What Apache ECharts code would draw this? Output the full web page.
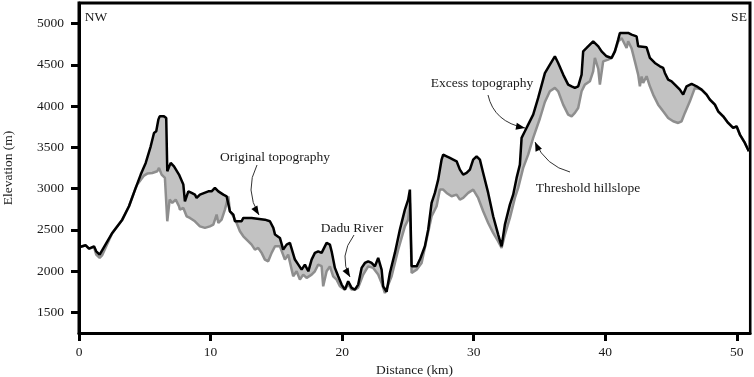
<!DOCTYPE html>
<html>
<head>
<meta charset="utf-8">
<script src="https://cdn.jsdelivr.net/npm/echarts@6/dist/echarts.min.js"></script>
<style>
html, body { margin: 0; padding: 0; background: #fff; }
#chart { width: 754px; height: 377px; }
</style>
</head>
<body>
<div id="chart"></div>
<script>
(function(){

// original topography (black line)
var originalX = [0.00, 0.51, 0.76, 1.14, 1.31, 1.57, 2.53, 3.29, 3.80, 4.31, 4.69, 5.07, 5.45, 5.70, 5.87, 6.03, 6.13, 6.46, 6.63, 6.71,
	6.97, 7.22, 7.60, 7.93, 8.05, 8.31, 8.56, 8.81, 8.94, 9.19, 9.83, 10.08, 10.33, 10.46, 10.59, 10.97, 11.22, 11.35, 11.47, 11.73,
	11.85, 12.36, 12.49, 13.12, 14.13, 14.51, 14.77, 14.90, 15.27, 15.52, 15.78, 16.03, 16.41, 16.67, 16.92, 17.17, 17.43, 17.68, 17.93, 18.18,
	18.44, 18.82, 19.07, 19.20, 19.45, 19.70, 19.96, 20.21, 20.46, 20.72, 20.97, 21.22, 21.48, 21.73, 21.98, 22.24, 22.49, 22.74, 23.00, 23.12,
	23.38, 23.63, 24.01, 24.39, 24.77, 25.02, 25.15, 25.28, 25.66, 25.91, 26.29, 26.54, 26.80, 27.05, 27.30, 27.56, 27.68, 27.94, 28.19, 28.44,
	28.70, 28.95, 29.20, 29.46, 29.71, 29.96, 30.22, 30.47, 30.72, 31.10, 31.48, 31.86, 32.12, 32.37, 32.75, 33.00, 33.26, 33.51, 33.64, 33.89,
	34.14, 34.52, 34.90, 35.41, 35.79, 36.17, 36.42, 36.80, 37.18, 37.44, 37.69, 37.94, 38.20, 38.32, 38.58, 39.08, 39.21, 39.47, 39.72, 40.10,
	40.48, 40.73, 40.98, 41.11, 41.74, 42.00, 42.38, 42.50, 43.14, 43.39, 43.77, 44.15, 44.40, 44.53, 44.78, 45.04, 45.29, 45.67, 45.92, 46.18,
	46.56, 46.94, 47.32, 47.70, 47.95, 48.33, 48.58, 48.96, 49.34, 49.72, 49.98, 50.23, 50.61, 50.91];
var originalElev = [2289, 2313, 2273, 2301, 2240, 2200, 2463, 2624, 2786, 3009, 3170, 3312, 3513, 3675, 3695, 3836, 3876, 3876, 3857, 3210,
	3312, 3270, 3170, 3049, 2846, 2967, 2948, 2927, 2887, 2927, 2967, 2967, 3009, 3028, 2967, 2927, 2907, 2907, 2725, 2685,
	2604, 2604, 2645, 2645, 2624, 2604, 2524, 2443, 2402, 2261, 2321, 2342, 2140, 2079, 2018, 2079, 1998, 2140, 2221, 2240,
	2221, 2342, 2321, 2240, 2039, 1937, 1837, 1776, 1877, 1797, 1776, 1837, 2039, 2099, 2119, 2099, 2058, 2160, 2018, 1816,
	1750, 1978, 2221, 2503, 2746, 2867, 2988, 2058, 2058, 2140, 2301, 2503, 2827, 2948, 3109, 3352, 3412, 3392, 3372, 3352,
	3331, 3230, 3170, 3190, 3230, 3352, 3392, 3352, 3190, 2948, 2665, 2443, 2301, 2564, 2806, 2927, 3130, 3291, 3615, 3695,
	3776, 3897, 4100, 4400, 4503, 4604, 4523, 4382, 4261, 4240, 4221, 4240, 4382, 4664, 4705, 4786, 4806, 4725, 4664, 4604,
	4584, 4664, 4806, 4887, 4887, 4867, 4846, 4725, 4713, 4584, 4523, 4483, 4463, 4402, 4321, 4301, 4261, 4200, 4140, 4240,
	4269, 4240, 4200, 4140, 4079, 4018, 3937, 3876, 3796, 3736, 3755, 3655, 3554, 3452];

// threshold hillslope (gray line)
var hillslopeX = [0.00, 0.51, 0.76, 1.14, 1.31, 1.57, 1.75, 2.53, 3.29, 3.80, 4.31, 4.43, 4.94, 5.19, 5.57, 5.95, 6.08, 6.28, 6.53, 6.66,
	6.71, 6.89, 7.09, 7.35, 7.60, 7.67, 7.93, 8.18, 8.43, 8.81, 9.19, 9.57, 9.95, 10.21, 10.46, 10.59, 10.84, 11.09, 11.35, 11.47,
	11.73, 11.98, 12.23, 12.49, 12.74, 13.12, 13.37, 13.62, 13.88, 14.13, 14.38, 14.64, 14.90, 15.27, 15.65, 15.90, 16.28, 16.54, 16.79, 17.04,
	17.30, 17.68, 17.93, 18.18, 18.44, 18.56, 18.82, 19.07, 19.32, 19.58, 19.83, 20.21, 20.46, 20.72, 20.97, 21.22, 21.60, 21.98, 22.36, 22.74,
	23.00, 23.25, 23.38, 23.76, 24.26, 24.77, 25.02, 25.15, 25.28, 25.66, 26.04, 26.42, 26.80, 27.18, 27.43, 27.68, 27.94, 28.32, 28.70, 28.95,
	29.20, 29.58, 29.96, 30.34, 30.72, 31.10, 31.48, 31.86, 32.12, 32.37, 32.75, 33.13, 33.38, 33.76, 34.14, 34.52, 35.03, 35.41, 35.79, 36.17,
	36.42, 36.80, 37.18, 37.44, 37.69, 37.94, 38.20, 38.45, 38.83, 39.08, 39.21, 39.47, 39.59, 39.84, 40.22, 40.48, 40.73, 40.98, 41.24, 41.62,
	41.74, 42.00, 42.25, 42.50, 42.63, 42.76, 42.88, 43.14, 43.39, 43.64, 44.02, 44.40, 44.78, 45.16, 45.54, 45.80, 46.05, 46.43, 46.81, 46.94,
	47.32, 47.70, 47.95, 48.33, 48.58, 48.96, 49.34, 49.72, 49.98, 50.23, 50.61, 50.91];
var hillslopeElev = [2289, 2313, 2273, 2290, 2200, 2160, 2190, 2463, 2624, 2786, 3009, 3049, 3158, 3182, 3190, 3210, 3251, 3170, 3130, 3130,
	2604, 2867, 2827, 2867, 2786, 2746, 2766, 2665, 2645, 2604, 2543, 2524, 2543, 2563, 2685, 2584, 2624, 2746, 2907, 2725,
	2665, 2584, 2483, 2422, 2382, 2321, 2261, 2281, 2221, 2140, 2119, 2221, 2301, 2301, 2140, 2200, 1937, 1998, 1897, 1958,
	1918, 1958, 1998, 2079, 2060, 1816, 1998, 2058, 1937, 1897, 1816, 1776, 1840, 1776, 1776, 1800, 1958, 2058, 2039, 1958,
	1857, 1735, 1735, 1937, 2261, 2543, 2624, 2827, 1978, 2018, 2099, 2382, 2665, 2786, 2988, 2988, 2948, 2907, 2927, 2867,
	2887, 2948, 2988, 2887, 2725, 2584, 2463, 2360, 2280, 2443, 2645, 2887, 3009, 3251, 3412, 3615, 3850, 4050, 4180, 4221,
	4180, 4018, 3897, 3876, 3918, 3978, 4180, 4261, 4301, 4422, 4584, 4450, 4261, 4543, 4564, 4584, 4664, 4780, 4826, 4705,
	4786, 4700, 4543, 4382, 4240, 4360, 4281, 4362, 4240, 4140, 4018, 3937, 3857, 3816, 3796, 3816, 3918, 4058, 4221, 4240,
	4200, 4140, 4079, 4018, 3937, 3876, 3796, 3736, 3755, 3655, 3554, 3452];

var elevationTicks = [1500, 2000, 2500, 3000, 3500, 4000, 4500, 5000];
var distanceTicks = [0, 10, 20, 30, 40, 50];

var serif = '"Liberation Serif", "Times New Roman", serif';

function pairs(xs, ys) {
	var out = [];
	for (var i = 0; i < xs.length; i++) out.push([xs[i], ys[i]]);
	return out;
}

var original = pairs(originalX, originalElev);
var hillslope = pairs(hillslopeX, hillslopeElev);

var chart = echarts.init(document.getElementById('chart'), null, {renderer: 'canvas'});

// labels with curved arrows, in pixels: text centre, arrow start, control point, tip
var notes = [
	{text: 'NW', x: 96, y: 17},
	{text: 'SE', x: 739, y: 17},
	{text: 'Original topography', x: 275, y: 157, arrow: [257, 165, 244, 190, 259, 215]},
	{text: 'Dadu River', x: 352, y: 228, arrow: [354, 235, 338, 256, 350, 277]},
	{text: 'Excess topography', x: 482, y: 83, arrow: [488, 95, 494, 122, 525, 128]},
	{text: 'Threshold hillslope', x: 588, y: 188, arrow: [570, 172, 546, 166, 535, 142]}
];

function buildGraphics() {
	var g = [];
	notes.forEach(function(n){
		g.push({
			type: 'text', z: 20,
			style: {text: n.text, x: n.x, y: n.y, fill: '#1a1a1a', font: '13.5px ' + serif, align: 'center', verticalAlign: 'middle'}
		});
		if (!n.arrow) return;
		var a = n.arrow;
		g.push({
			type: 'bezierCurve', z: 20,
			shape: {x1: a[0], y1: a[1], cpx1: a[2], cpy1: a[3], x2: a[4], y2: a[5]},
			style: {stroke: '#333', lineWidth: 1, fill: null}
		});
		var dx = a[4] - a[2], dy = a[5] - a[3];
		var len = Math.sqrt(dx * dx + dy * dy);
		var ux = dx / len, uy = dy / len;
		var bx = a[4] - ux * 9, by = a[5] - uy * 9;
		g.push({
			type: 'polygon', z: 21,
			shape: {points: [[a[4], a[5]], [bx - uy * 3.5, by + ux * 3.5], [bx + uy * 3.5, by - ux * 3.5]]},
			style: {fill: '#000'}
		});
	});
	return g;
}

function plain(v) { return String(v); }

var option = {
	animation: false,
	backgroundColor: '#fff',
	grid: {left: 79, right: 4, top: 3, bottom: 44, outerBoundsMode: 'none', containLabel: false,
		show: true, borderColor: '#000', borderWidth: 3, backgroundColor: 'transparent'},
	xAxis: {
		type: 'value', min: 0, max: 51, z: 10,
		name: 'Distance (km)', nameLocation: 'middle', nameGap: 29,
		nameTextStyle: {fontFamily: serif, fontSize: 13.5, color: '#1a1a1a'},
		axisLine: {lineStyle: {color: '#000', width: 3}},
		axisTick: {show: true, length: 8, customValues: distanceTicks, lineStyle: {color: '#000', width: 3}},
		axisLabel: {margin: 12, customValues: distanceTicks, formatter: plain, fontFamily: serif, fontSize: 13.5, color: '#1a1a1a'},
		splitLine: {show: false}
	},
	yAxis: {
		type: 'value', min: 1250, max: 5250, z: 10,
		name: 'Elevation (m)', nameLocation: 'middle', nameGap: 64, nameRotate: 90,
		nameTextStyle: {fontFamily: serif, fontSize: 13.5, color: '#1a1a1a'},
		axisLine: {show: true, lineStyle: {color: '#000', width: 3}},
		axisTick: {show: true, length: 8, customValues: elevationTicks, lineStyle: {color: '#000', width: 3}},
		axisLabel: {margin: 15, customValues: elevationTicks, formatter: plain, fontFamily: serif, fontSize: 13.5, color: '#1a1a1a'},
		splitLine: {show: false}
	},
	series: [
		{
			// grey fill under the original surface
			type: 'line', data: original, showSymbol: false, silent: true,
			lineStyle: {width: 0}, areaStyle: {color: '#c2c2c2', opacity: 1, origin: 'start'}
		},
		{
			// white below the threshold hillslope leaves only the excess shaded
			type: 'line', data: hillslope, showSymbol: false, silent: true,
			lineStyle: {color: '#8e8e8e', width: 2.5}, areaStyle: {color: '#fff', opacity: 1, origin: 'start'}
		},
		{
			type: 'line', data: original, showSymbol: false, silent: true,
			lineStyle: {color: '#000', width: 2.5}
		}
	],
	graphic: buildGraphics()
};

chart.setOption(option);

})()
</script>
</body>
</html>
